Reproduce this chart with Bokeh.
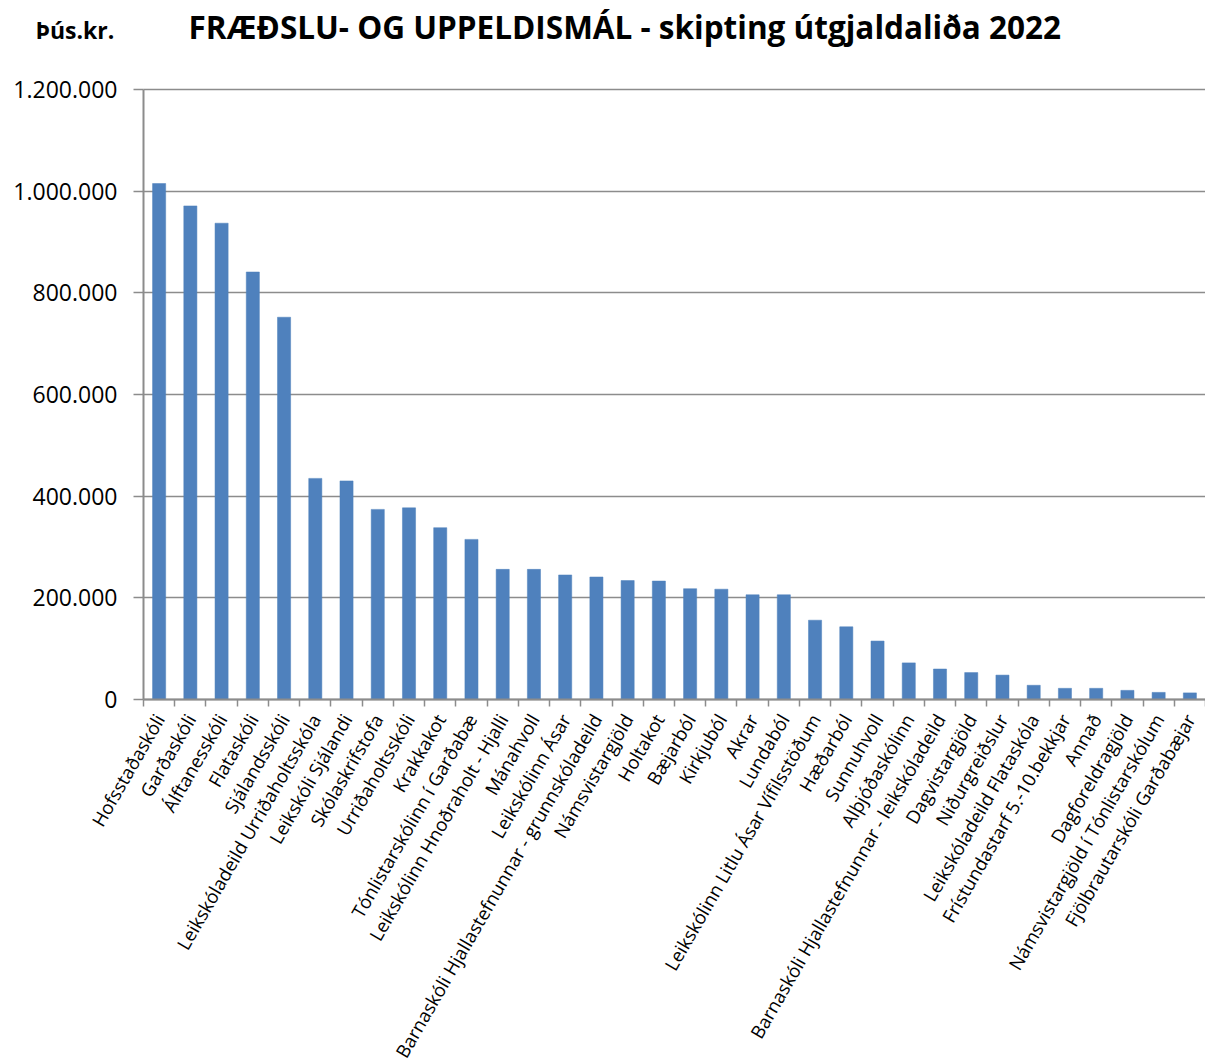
from bokeh.plotting import figure
from bokeh.models import Range1d, FixedTicker, Label, Grid
from bokeh.embed import file_html
from bokeh.resources import INLINE
import math

categories = [
    "Hofsstaðaskóli", "Garðaskóli", "Álftanesskóli", "Flataskóli", "Sjálandsskóli",
    "Leikskóladeild Urriðaholtsskóla", "Leikskóli Sjálandi", "Skólaskrifstofa",
    "Urriðaholtsskóli", "Krakkakot", "Tónlistarskólinn í Garðabæ",
    "Leikskólinn Hnoðraholt - Hjalli", "Mánahvoll", "Leikskólinn Ásar",
    "Barnaskóli Hjallastefnunnar - grunnskóladeild", "Námsvistargjöld", "Holtakot",
    "Bæjarból", "Kirkjuból", "Akrar", "Lundaból", "Leikskólinn Litlu Ásar Vífilsstöðum",
    "Hæðarból", "Sunnuhvoll", "Alþjóðaskólinn",
    "Barnaskóli Hjallastefnunnar - leikskóladeild", "Dagvistargjöld", "Niðurgreiðslur",
    "Leikskóladeild Flataskóla", "Frístundastarf 5.-10.bekkjar", "Annað",
    "Dagforeldragjöld", "Námsvistargjöld í Tónlistarskólum", "Fjölbrautarskóli Garðabæjar",
]
values = [
    1015000, 971000, 937000, 841000, 752000,
    435000, 430000, 374000, 377000, 338000, 315000,
    256000, 256000, 245000, 241000, 234000, 233000,
    218000, 217000, 206000, 206000, 156000,
    143000, 115000, 72000, 60000, 53000, 48000,
    28000, 22000, 22000, 18000, 14000, 13000,
]
y_ticks = [0, 200000, 400000, 600000, 800000, 1000000, 1200000]
title_text = "FRÆÐSLU- OG UPPELDISMÁL - skipting útgjaldaliða 2022"
unit_text = "Þús.kr."

n = len(categories)
xs = list(range(n))
y_max = y_ticks[-1]

# layout (pixels); the frame covers the whole canvas, axes sit at fixed places
W, H = 1205, 1064
AXIS_X = 143        # pixel column of the value axis
PLOT_TOP = 89       # pixel row of the top gridline
PLOT_BOTTOM = 699   # pixel row of the zero line

x_lo, x_hi = -0.5, n - 0.5
x_start = (W * x_lo - AXIS_X * x_hi) / (W - AXIS_X)
per_px = y_max / (PLOT_BOTTOM - PLOT_TOP)
y_start = -per_px * (H - PLOT_BOTTOM)
y_end = per_px * PLOT_BOTTOM

p = figure(width=W, height=H, output_backend="svg", toolbar_location=None,
           x_range=Range1d(x_start, x_hi), y_range=Range1d(y_start, y_end),
           min_border_left=0, min_border_right=0, min_border_top=0,
           min_border_bottom=0)
p.outline_line_color = None
p.background_fill_color = "white"
p.border_fill_color = "white"

grey = "#8c8c8c"

# gridlines
p.xgrid.grid_line_color = None
ygrid = p.ygrid[0]
if "cross_bounds" in Grid.properties():
    ygrid.cross_bounds = (x_lo, x_hi)
    ygrid.grid_line_color = grey
    ygrid.grid_line_width = 1.5
else:
    ygrid.grid_line_color = None
    p.segment(x0=[x_lo] * len(y_ticks), x1=[x_hi] * len(y_ticks), y0=y_ticks,
              y1=y_ticks, line_color=grey, line_width=1.5)

p.vbar(x=xs, top=values, width=0.42, fill_color="#4F81BD", line_color="#4F81BD",
       line_width=0.5)

# x axis (at value 0)
p.xaxis.fixed_location = 0
p.xaxis.bounds = (x_lo, x_hi)
p.xaxis.ticker = FixedTicker(ticks=xs, minor_ticks=[i - 0.5 for i in range(n + 1)])
p.xaxis.major_label_overrides = {i: c for i, c in zip(xs, categories)}
p.xaxis.major_label_orientation = math.pi / 3
p.xaxis.major_label_text_font = "Open Sans"
p.xaxis.major_label_text_font_size = "18.5px"
p.xaxis.major_label_text_color = "black"
p.xaxis.major_tick_line_color = None
p.xaxis.major_tick_out = 0
p.xaxis.major_tick_in = 0
p.xaxis.minor_tick_out = 7
p.xaxis.minor_tick_in = 0
p.xaxis.minor_tick_line_color = grey
p.xaxis.minor_tick_line_width = 1.5
p.xaxis.axis_line_color = grey
p.xaxis.axis_line_width = 2
p.xaxis.major_label_standoff = 9

# y axis (at the left edge of the first category)
p.yaxis.fixed_location = x_lo
p.yaxis.bounds = (0, y_max)
p.yaxis.ticker = FixedTicker(ticks=y_ticks)
p.yaxis.major_label_overrides = {t: f"{t:,}".replace(",", ".") for t in y_ticks}
p.yaxis.major_label_text_font = "Open Sans"
p.yaxis.major_label_text_font_size = "23px"
p.yaxis.major_label_text_color = "black"
p.yaxis.major_tick_out = 10
p.yaxis.major_tick_in = 0
p.yaxis.major_tick_line_color = grey
p.yaxis.major_tick_line_width = 1.5
p.yaxis.minor_tick_line_color = None
p.yaxis.axis_line_color = grey
p.yaxis.axis_line_width = 2
p.yaxis.major_label_standoff = 16

# title and unit, in screen pixels measured from the frame's bottom-left
p.add_layout(Label(x=188, y=H - 26, x_units="screen", y_units="screen",
                   text=title_text, text_font="Open Sans", text_font_style="bold",
                   text_font_size="31.5px", text_align="left",
                   text_baseline="alphabetic", text_color="black"))
p.add_layout(Label(x=35, y=H - 29, x_units="screen", y_units="screen",
                   text=unit_text, text_font="Open Sans", text_font_style="bold",
                   text_font_size="23px", text_align="left",
                   text_baseline="alphabetic", text_color="black"))

open("out.html", "w").write(file_html(p, INLINE))
